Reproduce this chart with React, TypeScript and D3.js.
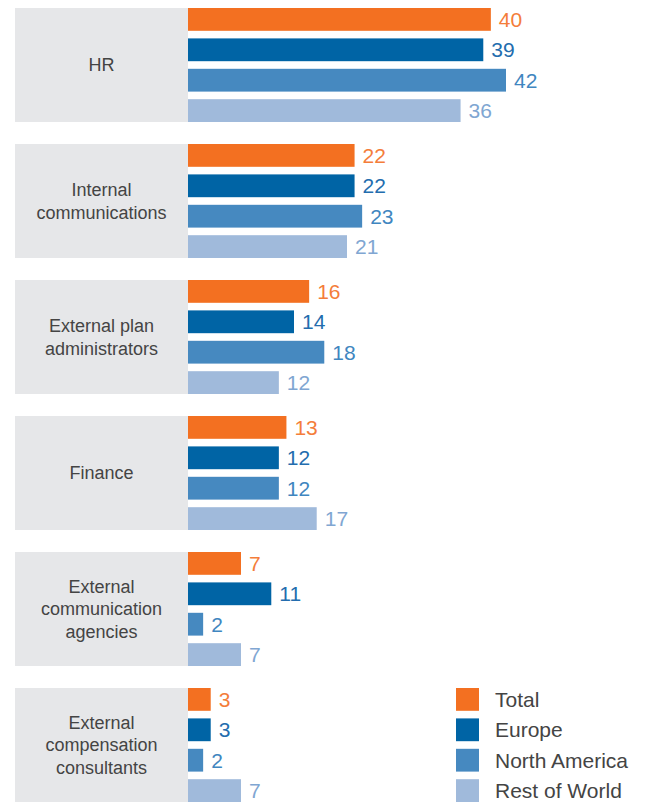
import React from "react";
import * as d3 from "d3";

const categories = [
  "HR",
  "Internal communications",
  "External plan administrators",
  "Finance",
  "External communication agencies",
  "External compensation consultants",
];
const categoryLines = [
  ["HR"],
  ["Internal", "communications"],
  ["External plan", "administrators"],
  ["Finance"],
  ["External", "communication", "agencies"],
  ["External", "compensation", "consultants"],
];
const seriesNames = ["Total", "Europe", "North America", "Rest of World"];
const total = [40, 22, 16, 13, 7, 3];
const europe = [39, 22, 14, 12, 11, 3];
const northAmerica = [42, 23, 18, 12, 2, 2];
const restOfWorld = [36, 21, 12, 17, 7, 7];

const seriesValues = [total, europe, northAmerica, restOfWorld];
const barColors = ["#F37021", "#0064A5", "#4689C0", "#A0BADB"];
const labelColors = ["#F47D3A", "#236DAE", "#3F86C0", "#80A6D2"];

const W = 645;
const H = 802;
const boxX0 = 15;
const barX0 = 188;

export default function App() {
  const y0 = d3
    .scaleBand<string>()
    .domain(categories)
    .range([8, 802])
    .paddingInner(22 / 136)
    .paddingOuter(0);
  const y1 = d3
    .scaleBand<string>()
    .domain(seriesNames)
    .range([0, y0.bandwidth()])
    .paddingInner(0.25)
    .paddingOuter(0);
  const x = d3.scaleLinear().domain([0, 42]).range([0, 318]);
  const font = "'Liberation Sans', Arial, Helvetica, sans-serif";
  const lastCat = categories[categories.length - 1];

  return (
    <svg
      width={W}
      height={H}
      style={{ position: "absolute", left: 0, top: 0, display: "block" }}
      fontFamily={font}
    >
      {categories.map((c, i) => {
        const gy = y0(c)!;
        const bh = y0.bandwidth();
        const lines = categoryLines[i];
        const lh = 22.5;
        const cy = gy + bh / 2;
        return (
          <g key={c}>
            <rect x={boxX0} y={gy} width={barX0 - boxX0} height={bh} fill="#E6E7E9" />
            <text
              x={(boxX0 + barX0) / 2}
              textAnchor="middle"
              fontSize={18}
              fill="#444"
            >
              {lines.map((l, k) => (
                <tspan
                  key={k}
                  x={(boxX0 + barX0) / 2}
                  y={cy + (k - (lines.length - 1) / 2) * lh}
                  dy="0.36em"
                >
                  {l}
                </tspan>
              ))}
            </text>
            {seriesNames.map((s, j) => {
              const v = seriesValues[j][i];
              const by = gy + y1(s)!;
              return (
                <g key={s}>
                  <rect
                    x={barX0}
                    y={by}
                    width={x(v)}
                    height={y1.bandwidth()}
                    fill={barColors[j]}
                  />
                  <text
                    x={barX0 + x(v) + 8}
                    y={by + y1.bandwidth() / 2}
                    dy="0.36em"
                    fontSize={21}
                    fill={labelColors[j]}
                  >
                    {v}
                  </text>
                </g>
              );
            })}
          </g>
        );
      })}
      <g>
        {seriesNames.map((s, j) => {
          const by = y0(lastCat)! + y1(s)!;
          return (
            <g key={s}>
              <rect x={456} y={by} width={23} height={y1.bandwidth()} fill={barColors[j]} />
              <text
                x={495}
                y={by + y1.bandwidth() / 2}
                dy="0.36em"
                fontSize={21}
                fill="#444"
              >
                {s}
              </text>
            </g>
          );
        })}
      </g>
    </svg>
  );
}
